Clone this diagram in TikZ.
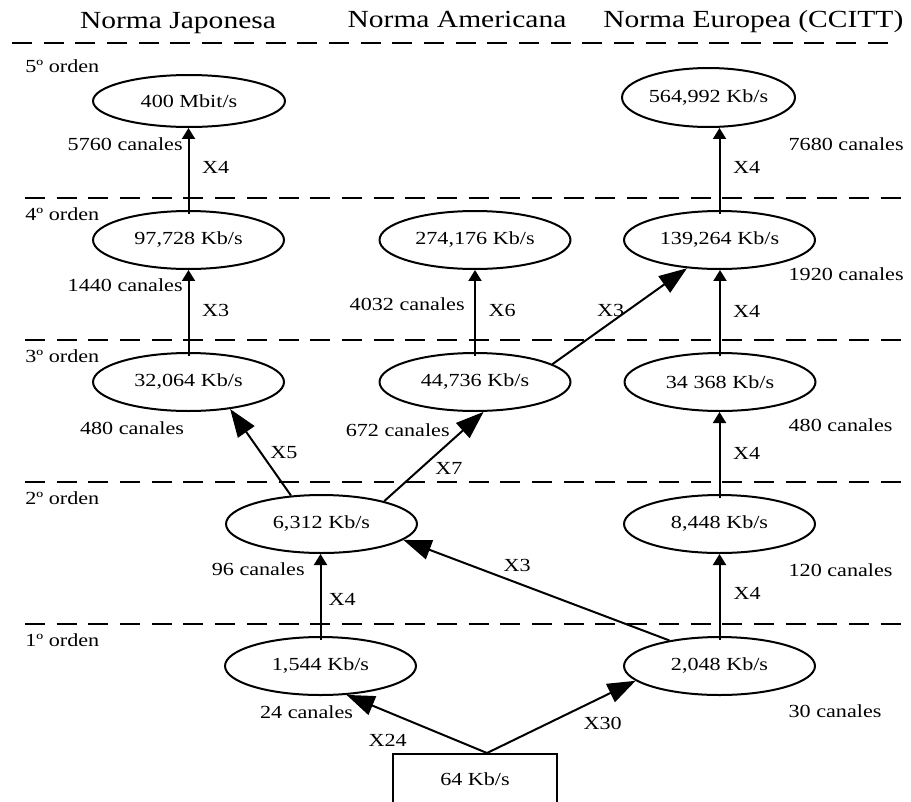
\documentclass[tikz,border=0pt]{standalone}
\usepackage{fontspec}
\setmainfont[FakeStretch=1.2]{Liberation Serif}
\usetikzlibrary{shapes.geometric,arrows.meta}
\begin{document}
\begin{tikzpicture}[x=0.02cm,y=-0.02cm,
  rate/.style={ellipse,draw,line width=0.04cm,minimum width=3.82cm,minimum height=1.16cm,inner sep=0pt,font=\fontsize{10.5}{12}\selectfont},
  txt/.style={inner sep=0pt,font=\fontsize{10.5}{12}\selectfont},
  txtl/.style={txt,anchor=base west},
  txtr/.style={txt,anchor=base east},
  head/.style={inner sep=0pt,anchor=base,font=\fontsize{14}{16}\selectfont},
  level/.style={line width=0.05cm,dash pattern=on 0.4cm off 0.234cm},
  up/.style={line width=0.04cm,-{Triangle[length=0.22cm,width=0.26cm]}},
  slant/.style={line width=0.04cm,-{Triangle[length=0.56cm,width=0.40cm]}},
]
\useasboundingbox (0,0) rectangle (911,801);

% column headings
\node[head] (hj) at (178,28.3) {Norma Japonesa};
\node[head] (ha) at (457,28) {Norma Americana};
\node[head] (he) at (753.3,28) {Norma Europea (CCITT)};

% hierarchy level separators
\draw[level] (12,43) -- (890,43);
\draw[level] (25,198) -- (911,198);
\draw[level] (25,340) -- (911,340);
\draw[level] (25,482) -- (911,482);
\draw[level] (25,624) -- (911,624);

% level names
\node[txtl] (o5) at (25,72.7) {5º orden};
\node[txtl] (o4) at (25,220.7) {4º orden};
\node[txtl] (o3) at (25,362.7) {3º orden};
\node[txtl] (o2) at (25,504.7) {2º orden};
\node[txtl] (o1) at (25,646.7) {1º orden};

% bit rates
\node[rate,minimum width=3.84cm,minimum height=1.04cm] (j5) at (189,101) {400 Mbit/s};
\node[rate,minimum width=3.46cm,minimum height=1.18cm] (e5) at (708.5,97.5) {564,992 Kb/s};
\node[rate] (j4) at (188.5,240) {97,728 Kb/s};
\node[rate] (a4) at (475,240) {274,176 Kb/s};
\node[rate] (e4) at (719.5,240) {139,264 Kb/s};
\node[rate] (j3) at (188.5,382) {32,064 Kb/s};
\node[rate] (a3) at (475,382) {44,736 Kb/s};
\node[rate] (e3) at (720,382) {34 368 Kb/s};
\node[rate] (a2) at (321.5,524) {6,312 Kb/s};
\node[rate] (e2) at (719.5,524) {8,448 Kb/s};
\node[rate] (a1) at (320.5,666) {1,544 Kb/s};
\node[rate] (e1) at (719.5,666) {2,048 Kb/s};
\node[draw,line width=0.04cm,minimum width=3.28cm,minimum height=1.02cm,inner sep=0pt,
      font=\fontsize{10.5}{12}\selectfont] (src) at (475,779.5) {64 Kb/s};
\coordinate (fork) at ([xshift=0.24cm]src.north);

% vertical multiplexing steps
\draw[up] ([yshift=-0.08cm]j4.north) -- (j4.north |- j5.south);
\draw[up] ([yshift=-0.08cm]j3.north) -- (j3.north |- j4.south);
\draw[up] ([yshift=-0.08cm]a3.north) -- (a3.north |- a4.south);
\draw[up] ([yshift=-0.08cm]e4.north) -- (e4.north |- e5.south);
\draw[up] ([yshift=-0.08cm]e3.north) -- (e3.north |- e4.south);
\draw[up] ([yshift=-0.08cm]e2.north) -- (e2.north |- e3.south);
\draw[up] ([yshift=-0.08cm]a1.north) -- (a1.north |- a2.south);
\draw[up] ([yshift=-0.08cm]e1.north) -- (e1.north |- e2.south);

% slanted multiplexing steps
\draw[slant] (a2.137.5) -- (j3.-33);
\draw[slant] (a2.20) -- (a3.-74);
\draw[slant] (a3.13.6) -- (e4.221);
\draw[slant] (e1.153.9) -- (a2.-11.3);
\draw[slant] (fork) -- (a1.-48.4);
\draw[slant] (fork) -- (e1.190.9);

% channel counts
\node[txtr] (c5760) at (183,150) {5760 canales};
\node[txtr] (c1440) at (183,291.7) {1440 canales};
\node[txtr] (c480j) at (184.3,434) {480 canales};
\node[txtr] (c672) at (450,436.7) {672 canales};
\node[txtr] (c4032) at (465,310) {4032 canales};
\node[txtr] (c96) at (305,575) {96 canales};
\node[txtr] (c24) at (353.3,718.3) {24 canales};
\node[txtl] (c7680) at (788.3,150) {7680 canales};
\node[txtl] (c1920) at (788.3,280) {1920 canales};
\node[txtl] (c480e) at (788.3,431.7) {480 canales};
\node[txtl] (c120) at (788.3,576) {120 canales};
\node[txtl] (c30) at (788.3,717.3) {30 canales};

% multiplication factors
\node[txtl] (m1) at (201.7,173.3) {X4};
\node[txtl] (m2) at (201.7,316) {X3};
\node[txtl] (m3) at (488.3,316) {X6};
\node[txtl] (m4) at (596.7,316) {X3};
\node[txtl] (m5) at (732.7,173.3) {X4};
\node[txtl] (m6) at (732.7,317.3) {X4};
\node[txtl] (m7) at (270,458.3) {X5};
\node[txtl] (m8) at (435,474) {X7};
\node[txtl] (m9) at (732.7,459) {X4};
\node[txtl] (m10) at (503.3,571.7) {X3};
\node[txtl] (m11) at (328.3,605) {X4};
\node[txtl] (m12) at (733.3,599.3) {X4};
\node[txtl] (m13) at (368.3,746.7) {X24};
\node[txtl] (m14) at (583.3,729.3) {X30};
\end{tikzpicture}
\end{document}
